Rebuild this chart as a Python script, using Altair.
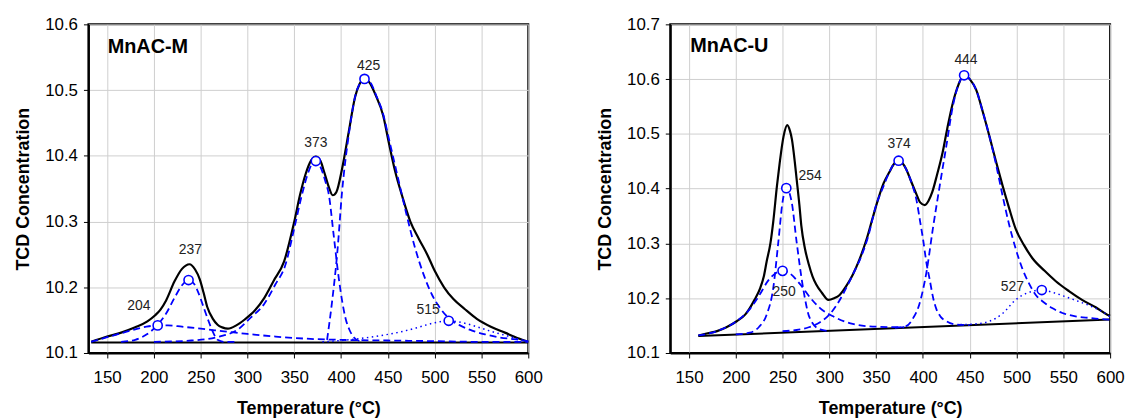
import altair as alt
import pandas as pd

FONT = "Liberation Sans"
BLUE = "#0000FF"

X_TICKS = [150, 200, 250, 300, 350, 400, 450, 500, 550, 600]
M_Y_TICKS = [10.1, 10.2, 10.3, 10.4, 10.5, 10.6]
U_Y_TICKS = [10.1, 10.2, 10.3, 10.4, 10.5, 10.6, 10.7]

# ---------------- MnAC-M ----------------
M_TOTAL_X = [133, 150, 165, 180, 193, 201, 207, 213, 222, 230, 234, 238, 244, 249, 253, 257, 263, 268, 273, 279,
             288, 297, 308, 318, 328, 339, 350, 356, 362, 368, 373, 378, 382, 387, 391, 395, 401, 408, 415, 420,
             425, 430, 437, 445, 451, 458, 465, 474, 483, 492, 500, 510, 520, 532, 545, 560, 575, 590, 600]
M_TOTAL_Y = [10.117, 10.125, 10.131, 10.139, 10.148, 10.157, 10.166, 10.18, 10.209, 10.228, 10.233, 10.235, 10.227,
             10.212, 10.192, 10.17, 10.152, 10.143, 10.139, 10.137, 10.142, 10.151, 10.165, 10.184, 10.21, 10.239,
             10.30, 10.34, 10.372, 10.393, 10.399, 10.392, 10.375, 10.352, 10.34, 10.345, 10.38, 10.435, 10.49,
             10.51, 10.518, 10.512, 10.492, 10.461, 10.42, 10.375, 10.34, 10.3, 10.274, 10.25, 10.225, 10.2,
             10.182, 10.167, 10.152, 10.14, 10.131, 10.122, 10.117]

M_BASE_X = [133, 600]
M_BASE_Y = [10.116, 10.116]

M_P204_X = [133, 150, 165, 180, 192, 204, 215, 230, 250, 275, 300, 330, 360, 400, 450, 500, 550, 600]
M_P204_Y = [10.117, 10.124, 10.130, 10.136, 10.140, 10.142, 10.142, 10.140, 10.137, 10.133, 10.129, 10.125,
            10.122, 10.120, 10.119, 10.118, 10.117, 10.117]

M_P237_X = [165, 180, 192, 204, 213, 222, 230, 237, 243, 248, 253, 258, 263, 268, 275, 290]
M_P237_Y = [10.117, 10.120, 10.128, 10.143, 10.160, 10.184, 10.203, 10.211, 10.205, 10.190, 10.170, 10.150,
            10.132, 10.120, 10.117, 10.117]

M_P373_X = [200, 240, 270, 290, 302, 318, 330, 340, 350, 358, 365, 369, 373, 378, 383, 387, 392, 397.5, 401,
            404.7, 409, 413.5, 420]
M_P373_Y = [10.117, 10.119, 10.125, 10.136, 10.152, 10.175, 10.205, 10.232, 10.29, 10.34, 10.375, 10.388, 10.392,
            10.383, 10.362, 10.34, 10.28, 10.214, 10.18, 10.153, 10.135, 10.124, 10.118]

M_P425_X = [385, 390, 396, 401, 408, 415, 420, 426, 432, 438, 444, 452, 461, 470, 479, 488, 497, 506, 515, 527,
            540, 555, 568, 585, 600]
M_P425_Y = [10.12, 10.174, 10.254, 10.345, 10.43, 10.49, 10.51, 10.517, 10.51, 10.49, 10.468, 10.42, 10.365, 10.31,
            10.26, 10.22, 10.189, 10.168, 10.153, 10.142, 10.134, 10.128, 10.124, 10.121, 10.118]

M_P515_X = [380, 400, 420, 440, 460, 480, 497, 515, 530, 545, 560, 575, 590, 600]
M_P515_Y = [10.117, 10.119, 10.122, 10.126, 10.131, 10.138, 10.145, 10.149, 10.146, 10.140, 10.133, 10.127,
            10.121, 10.117]

M_PEAK_X = [204, 237, 373, 425, 515]
M_PEAK_Y = [10.142, 10.211, 10.392, 10.517, 10.149]
M_LABEL_TEXT = ["204", "237", "373", "425", "515"]
M_LABEL_X = [184, 239, 373, 429.5, 493]
M_LABEL_Y = [10.171, 10.257, 10.419, 10.537, 10.166]

# ---------------- MnAC-U ----------------
U_TOTAL_X = [160, 170, 180, 190, 201, 210, 215, 220, 226, 230, 233, 237, 240, 244, 247, 251, 255, 258, 260, 263,
             265, 268, 270, 274, 278, 282, 286, 292, 299, 305, 311, 318, 325, 332, 340, 346, 352, 358, 364, 369,
             374, 378, 382, 387, 393, 397, 402, 406, 410, 415, 421, 426, 432, 438, 444, 450, 457, 464, 471, 478,
             485, 492, 499, 508, 517, 530, 542, 556, 570, 585, 597, 600]
U_TOTAL_Y = [10.132, 10.136, 10.140, 10.147, 10.158, 10.170, 10.182, 10.197, 10.218, 10.240, 10.267, 10.300,
             10.339, 10.405, 10.448, 10.495, 10.516, 10.505, 10.490, 10.450, 10.418, 10.370, 10.333, 10.290,
             10.262, 10.240, 10.225, 10.210, 10.197, 10.200, 10.206, 10.222, 10.243, 10.270, 10.309, 10.345,
             10.380, 10.410, 10.430, 10.445, 10.451, 10.447, 10.436, 10.415, 10.390, 10.375, 10.370, 10.378,
             10.394, 10.425, 10.466, 10.510, 10.557, 10.590, 10.608, 10.600, 10.580, 10.540, 10.496, 10.450,
             10.406, 10.365, 10.327, 10.297, 10.273, 10.250, 10.231, 10.213, 10.197, 10.183, 10.170, 10.168]

U_BASE_X = [160, 600]
U_BASE_Y = [10.131, 10.161]

U_P250_X = [160, 180, 200, 215, 225, 235, 243, 250, 258, 268, 280, 290, 304, 325, 350, 380]
U_P250_Y = [10.132, 10.140, 10.157, 10.180, 10.205, 10.233, 10.246, 10.250, 10.245, 10.227, 10.200, 10.182,
            10.167, 10.153, 10.148, 10.147]

U_P254_X = [200, 215, 225, 233, 240, 245.5, 250, 254, 259.7, 265, 272, 279, 290, 300]
U_P254_Y = [10.134, 10.137, 10.148, 10.170, 10.218, 10.303, 10.376, 10.401, 10.376, 10.303, 10.218, 10.164,
            10.143, 10.140]

U_P374_X = [250, 265, 278, 290, 300, 308, 316, 325, 333, 341, 350, 358, 364, 369, 374, 379, 383, 388, 393, 397,
            400, 404, 407, 411, 414, 419, 425, 435, 450]
U_P374_Y = [10.140, 10.142, 10.147, 10.156, 10.170, 10.188, 10.212, 10.243, 10.272, 10.310, 10.370, 10.405,
            10.430, 10.445, 10.450, 10.445, 10.432, 10.410, 10.380, 10.340, 10.309, 10.262, 10.236, 10.200,
            10.182, 10.166, 10.158, 10.152, 10.151]

U_P444_X = [370, 382, 390, 396, 400, 404, 410.6, 418, 425, 432, 438, 444, 450, 457, 464, 471, 478, 485, 492, 499,
            506, 514, 521, 528, 538, 549, 563, 578, 590, 600]
U_P444_Y = [10.146, 10.149, 10.165, 10.188, 10.215, 10.250, 10.327, 10.406, 10.478, 10.551, 10.590, 10.607,
            10.600, 10.580, 10.540, 10.496, 10.445, 10.388, 10.335, 10.291, 10.255, 10.225, 10.205, 10.194,
            10.182, 10.173, 10.167, 10.164, 10.162, 10.161]

U_P527_X = [440, 455, 471, 485, 499, 512, 527, 540, 552, 565, 580, 590, 600]
U_P527_Y = [10.152, 10.153, 10.158, 10.172, 10.197, 10.210, 10.215, 10.210, 10.203, 10.195, 10.185, 10.177,
            10.166]

U_PEAK_X = [250, 254, 374, 444, 527]
U_PEAK_Y = [10.250, 10.401, 10.451, 10.607, 10.215]
U_LABEL_TEXT = ["250", "254", "374", "444", "527"]
U_LABEL_X = [251.7, 279.4, 374.5, 446, 495.5]
U_LABEL_Y = [10.212, 10.424, 10.482, 10.635, 10.220]


def frame(pairs):
    rows = []
    for name, xs, ys in pairs:
        for xv, yv in zip(xs, ys):
            rows.append({"x": xv, "y": yv, "series": name})
    return pd.DataFrame(rows)


def panel(name, name_x, name_y, ydom, yticks, total, base, dashed, dotted, peaks, labels):
    xenc = alt.X("x:Q", scale=alt.Scale(domain=[130, 600], nice=False, zero=False),
                 axis=alt.Axis(values=X_TICKS, title="Temperature (°C)"))
    yenc = alt.Y("y:Q", scale=alt.Scale(domain=ydom, nice=False, zero=False),
                 axis=alt.Axis(values=yticks, format=".1f", title="TCD Concentration"))

    base_l = alt.Chart(frame([("base",) + base])).mark_line(
        color="black", strokeWidth=2).encode(x=xenc, y=yenc, detail="series:N")
    total_l = alt.Chart(frame([("total",) + total])).mark_line(
        color="black", strokeWidth=2.2, interpolate="monotone").encode(x=xenc, y=yenc, detail="series:N")
    dashed_l = alt.Chart(frame(dashed)).mark_line(
        color=BLUE, strokeWidth=1.8, strokeDash=[7, 4], interpolate="monotone").encode(
        x=xenc, y=yenc, detail="series:N")
    dotted_l = alt.Chart(frame(dotted)).mark_line(
        color=BLUE, strokeWidth=1.5, strokeDash=[1.5, 3.5], interpolate="monotone").encode(
        x=xenc, y=yenc, detail="series:N")
    pk = pd.DataFrame({"x": peaks[0], "y": peaks[1]})
    pts = alt.Chart(pk).mark_point(shape="circle", filled=True, fill="white", stroke=BLUE,
                                   strokeWidth=1.6, size=85, opacity=1).encode(x=xenc, y=yenc)
    lb = pd.DataFrame({"x": labels[1], "y": labels[2], "t": labels[0]})
    txt = alt.Chart(lb).mark_text(font=FONT, fontSize=14, color="#222222", align="center",
                                  baseline="middle").encode(x=xenc, y=yenc, text="t:N")
    nm = pd.DataFrame({"x": [name_x], "y": [name_y], "t": [name]})
    ttl = alt.Chart(nm).mark_text(font=FONT, fontSize=20, fontWeight="bold", color="black", align="left",
                                  baseline="middle").encode(x=xenc, y=yenc, text="t:N")
    return alt.layer(base_l, total_l, dashed_l, dotted_l, pts, txt, ttl).properties(width=443, height=331)


left = panel("MnAC-M", 150.6, 10.565, [10.1, 10.6], M_Y_TICKS,
             (M_TOTAL_X, M_TOTAL_Y), (M_BASE_X, M_BASE_Y),
             [("p204", M_P204_X, M_P204_Y), ("p237", M_P237_X, M_P237_Y),
              ("p373", M_P373_X, M_P373_Y), ("p425", M_P425_X, M_P425_Y)],
             [("p515", M_P515_X, M_P515_Y)],
             (M_PEAK_X, M_PEAK_Y), (M_LABEL_TEXT, M_LABEL_X, M_LABEL_Y))

right = panel("MnAC-U", 151.3, 10.66, [10.1, 10.7], U_Y_TICKS,
              (U_TOTAL_X, U_TOTAL_Y), (U_BASE_X, U_BASE_Y),
              [("p250", U_P250_X, U_P250_Y), ("p254", U_P254_X, U_P254_Y),
               ("p374", U_P374_X, U_P374_Y), ("p444", U_P444_X, U_P444_Y)],
              [("p527", U_P527_X, U_P527_Y)],
              (U_PEAK_X, U_PEAK_Y), (U_LABEL_TEXT, U_LABEL_X, U_LABEL_Y))

chart = alt.hconcat(left, right, spacing=143, bounds="flush").properties(
    padding={"left": 5, "top": 5, "right": 0, "bottom": 0}
).configure_view(
    stroke="black", strokeWidth=2
).configure_axis(
    labelFont=FONT, labelFontSize=17, labelColor="black",
    titleFont=FONT, titleFontSize=18, titleFontWeight="bold", titleColor="black",
    tickSize=5, tickColor="black", tickWidth=1,
    domainColor="black", domainWidth=2,
    gridColor="#cfcfcf", gridWidth=1
).configure_axisX(
    labelPadding=12, titlePadding=14, labelFlush=False
).configure_axisY(
    labelPadding=6, titlePadding=12
)

chart.save("out.html", embed_options={"renderer": "svg", "actions": False})
